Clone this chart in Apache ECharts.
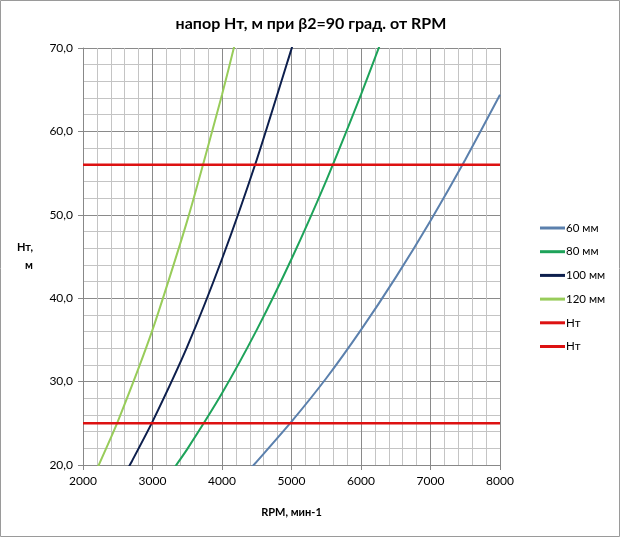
<!DOCTYPE html>
<html>
<head>
<meta charset="utf-8">
<script src="https://cdn.jsdelivr.net/npm/echarts@6/dist/echarts.min.js"></script>
<style>
html,body{margin:0;padding:0;background:#fff;}
#c{width:622px;height:537px;}
</style>
</head>
<body>
<div id="c"></div>
<script>
// RPM values where the curves were read
const rpm60  = [4400, 4500, 5000, 5500, 6000, 6500, 7000, 7500, 8000];
const h60    = [19.5, 20.4, 25.2, 30.4, 36.2, 42.5, 49.3, 56.6, 64.4];
const rpm80  = [3300, 3500, 4000, 4500, 5000, 5500, 6000, 6300];
const h80    = [19.5, 21.9, 28.6, 36.2, 44.7, 54.1, 64.4, 71.0];
const rpm100 = [2600, 2700, 3000, 3500, 4000, 4500, 5000, 5100];
const h100   = [18.9, 20.4, 25.2, 34.2, 44.7, 56.6, 69.9, 72.7];
const rpm120 = [2200, 2500, 3000, 3500, 4000, 4200];
const h120   = [19.5, 25.2, 36.2, 49.3, 64.4, 71.0];
const rpmHt  = [2000, 8000];
const ht1    = [56, 56];
const ht2    = [25, 25];
// second "Нт" carries a trailing space so the legend keeps both entries
const seriesNames = ['60 мм', '80 мм', '100 мм', '120 мм', 'Нт', 'Нт '];

function pairs(xs, ys){ return xs.map((x,i)=>[x, ys[i]]); }

const colors = ['#5b80ad', '#1ea35a', '#0d1f4d', '#98cc5a', '#dd1111', '#dd1111'];
const datasets = [pairs(rpm60,h60), pairs(rpm80,h80), pairs(rpm100,h100), pairs(rpm120,h120), pairs(rpmHt,ht1), pairs(rpmHt,ht2)];

const font = 'Lato, "Open Sans", sans-serif';
const chart = echarts.init(document.getElementById('c'));
chart.setOption({
  animation: false,
  textStyle: {fontFamily: font},
  title: {
    text: 'напор Нт, м при β2=90 град. от RPM',
    left: 'center', top: 11,
    textStyle: {fontFamily: font, fontSize: 16, fontWeight: 'bold', color: '#000'}
  },
  graphic: [{
    type: 'rect', shape: {x: 0.5, y: 0.5, width: 619, height: 536},
    style: {fill: 'none', stroke: '#9a9a9a', lineWidth: 1}, silent: true
  }],
  legend: {
    orient: 'vertical', left: 535, top: 217,
    icon: 'rect', itemWidth: 25, itemHeight: 3, itemGap: 11.7,
    textStyle: {fontFamily: font, fontSize: 11.5, color: '#000', padding: [0,0,0,-4]},
    data: seriesNames.map(n => ({name: n}))
  },
  grid: {left: 83, right: 122, top: 48, bottom: 72},
  xAxis: {
    type: 'value', min: 2000, max: 8000, interval: 1000,
    name: 'RPM, мин-1', nameLocation: 'middle', nameGap: 42,
    nameTextStyle: {fontFamily: font, fontSize: 11, fontWeight: 'bold', color: '#000'},
    axisLine: {show: true, onZero: false, lineStyle: {color: '#888'}},
    axisTick: {show: true, length: 5, lineStyle: {color: '#888'}},
    axisLabel: {fontFamily: font, fontSize: 12, color: '#000', margin: 10,
      formatter: v => String(v)},
    splitLine: {show: true, lineStyle: {color: '#8a8a8a', width: 1}},
    minorTick: {show: false, splitNumber: 5},
    minorSplitLine: {show: true, lineStyle: {color: '#c4c4c4', width: 1}}
  },
  yAxis: {
    type: 'value', min: 20, max: 70, interval: 10,
    name: 'Нт,\n\nм', nameLocation: 'middle', nameGap: 50, nameRotate: 0,
    nameTextStyle: {fontFamily: font, fontSize: 11, fontWeight: 'bold', color: '#000', lineHeight: 9},
    axisLine: {show: true, lineStyle: {color: '#888'}},
    axisTick: {show: true, length: 5, lineStyle: {color: '#888'}},
    axisLabel: {fontFamily: font, fontSize: 12, color: '#000', margin: 10,
      formatter: v => v.toFixed(1).replace('.', ',')},
    splitLine: {show: true, lineStyle: {color: '#8a8a8a', width: 1}},
    minorTick: {show: false, splitNumber: 5},
    minorSplitLine: {show: true, lineStyle: {color: '#c4c4c4', width: 1}}
  },
  series: datasets.map((d, i) => ({
    name: seriesNames[i], type: 'line', data: d,
    showSymbol: false, symbol: 'none', smooth: i < 4 ? 0.2 : false,
    clip: true,
    color: colors[i],
    lineStyle: {color: colors[i], width: i >= 4 ? 2.5 : 2}
  }))
});
</script>
</body>
</html>
